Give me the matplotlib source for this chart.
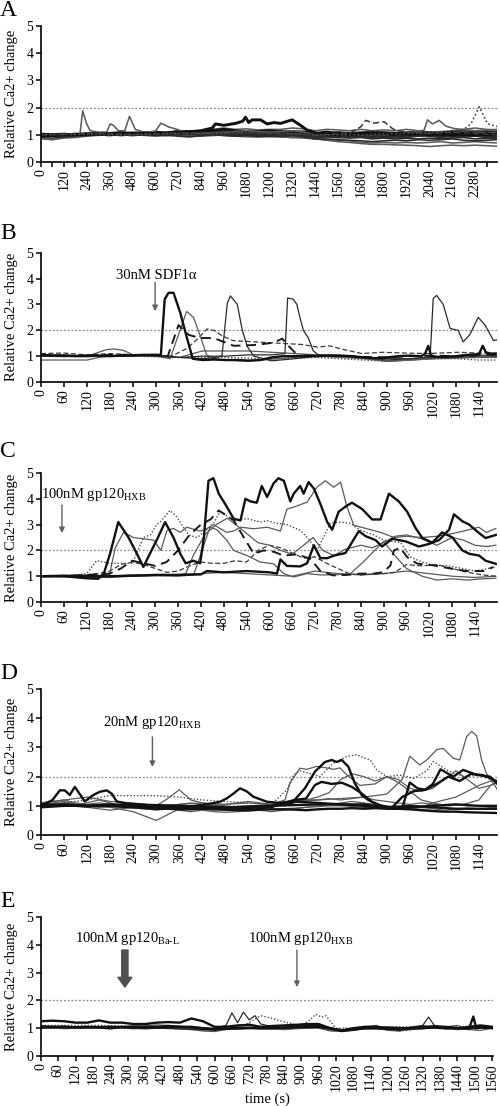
import matplotlib
matplotlib.use('Agg')
import matplotlib.pyplot as plt
import numpy as np

plt.rcParams['font.family'] = ['Liberation Serif', 'DejaVu Serif']
plt.rcParams['mathtext.fontset'] = 'custom'
plt.rcParams['mathtext.rm'] = 'Liberation Serif'
plt.rcParams['mathtext.it'] = 'Liberation Serif:italic'

# ── Panel A: control (no stimulus), 0-2400 s ─────────────────────────────────
tA = np.arange(0, 2401, 60)
a1 = [1.0,0.98,1.0,1.02,1.03,1.05,1.05,1.08,1.05,1.07,1.1,1.05,1.1,1.12,1.1,1.15,1.2,1.15,1.1,1.12,1.15,1.1,1.12,1.1,1.05,1.1,1.05,1.0,1.05,1.05,1.0,1.02,1.05,1.08,1.0,1.05,1.1,1.05,1.0,1.05,1.0]
a2 = [0.95,0.97,1.0,1.0,1.05,1.02,1.0,1.05,1.0,1.02,1.0,1.03,1.05,1.0,1.05,1.1,1.05,1.08,1.05,1.0,1.02,1.0,0.98,1.0,0.95,0.97,0.95,0.92,0.95,0.9,0.95,0.93,0.95,0.97,0.95,0.9,0.95,0.92,0.95,0.9,0.92]
a3 = [1.02,1.0,0.98,1.0,1.0,1.03,1.08,1.05,1.1,1.08,1.05,1.1,1.15,1.12,1.15,1.2,1.25,1.2,1.22,1.18,1.2,1.2,1.25,1.22,1.15,1.2,1.18,1.15,1.2,1.15,1.18,1.15,1.2,1.15,1.1,1.12,1.15,1.2,1.25,1.2,1.18]
a4 = [0.9,0.88,0.92,0.95,0.97,1.0,0.98,1.0,0.97,1.0,1.0,0.98,0.95,0.92,0.97,1.0,0.98,0.95,0.97,0.95,0.93,0.95,0.97,0.92,0.85,0.85,0.82,0.8,0.78,0.75,0.78,0.8,0.78,0.82,0.8,0.82,0.85,0.8,0.78,0.8,0.82]
a5 = [0.85,0.82,0.88,0.9,0.95,0.98,1.0,0.97,1.0,0.98,0.95,0.97,1.0,0.95,0.97,1.0,0.97,0.95,0.93,0.92,0.95,0.92,0.9,0.88,0.85,0.8,0.75,0.72,0.68,0.65,0.65,0.63,0.62,0.6,0.57,0.6,0.62,0.6,0.62,0.6,0.58]
a6 = [1.0,1.02,1.0,1.05,1.0,1.02,1.0,1.03,1.0,1.0,1.05,1.02,1.0,1.05,1.08,1.05,1.1,1.05,1.08,1.05,1.03,1.05,1.0,1.05,1.0,1.05,1.1,1.05,1.0,1.05,1.1,1.05,1.08,1.05,1.0,1.02,1.05,1.1,1.05,1.0,1.03]
a7 = [0.97,1.0,1.02,1.0,1.05,1.0,1.03,1.0,1.05,1.03,1.0,1.05,1.0,1.03,1.0,1.02,1.0,0.98,1.0,0.97,0.98,0.95,0.97,0.95,0.92,0.95,0.9,0.88,0.9,0.85,0.88,0.85,0.87,0.85,0.88,0.85,0.88,0.9,0.85,0.87,0.85]
a8 = [1.0,1.0,1.0,1.0,1.02,1.0,1.0,1.02,1.05,1.0,1.02,1.05,1.08,1.1,1.05,1.1,1.12,1.15,1.1,1.05,1.08,1.05,1.1,1.05,1.0,1.05,1.0,0.95,0.97,1.0,0.97,1.0,1.05,1.0,0.97,1.0,1.02,1.05,1.1,1.15,1.12]
a9 = [1.0,0.97,1.0,1.02,1.0,1.0,0.97,1.0,0.98,1.0,0.97,1.0,0.98,1.0,0.95,0.97,1.0,0.98,0.95,0.93,0.95,0.93,0.9,0.92,0.85,0.82,0.8,0.78,0.72,0.7,0.72,0.7,0.72,0.7,0.72,0.75,0.7,0.72,0.75,0.72,0.7]
a10 = [1.03,1.0,0.97,1.0,1.03,1.05,1.0,1.05,1.03,1.05,1.08,1.05,1.03,1.05,1.1,1.08,1.05,1.1,1.05,1.1,1.05,1.08,1.05,1.1,1.05,1.0,1.05,1.0,1.03,1.0,1.05,1.0,1.0,0.97,1.0,0.95,1.0,0.97,1.0,0.95,0.97]
a11 = [0.92,0.95,0.97,1.0,0.98,1.0,1.02,0.98,1.0,1.03,1.0,0.98,1.02,1.05,1.0,1.05,1.03,1.0,1.02,1.0,0.97,1.0,1.02,0.98,0.9,0.92,0.9,0.95,0.92,0.95,0.9,0.92,0.9,0.95,0.97,0.95,0.92,0.95,0.97,0.95,0.93]
a12 = [1.05,1.03,1.05,1.02,1.05,1.08,1.05,1.1,1.05,1.1,1.12,1.08,1.15,1.1,1.12,1.15,1.1,1.12,1.15,1.1,1.12,1.15,1.1,1.12,1.08,1.05,1.1,1.08,1.1,1.12,1.1,1.08,1.1,1.12,1.1,1.08,1.12,1.15,1.1,1.12,1.1]
a_sp_t = [0,120,180,205,219,240,258,300,345,363,380,407,440,465,495,540,600,630,670,714,760,840,960,1080,1200,1320,1440,1560,1680,1800,1920,2012,2030,2056,2091,2126,2170,2280,2400]
a_sp = [1.0,1.0,1.02,1.05,1.88,1.4,1.15,1.1,1.1,1.4,1.35,1.15,1.15,1.68,1.2,1.1,1.12,1.43,1.29,1.2,1.1,1.05,1.1,1.15,1.1,1.15,1.05,1.0,1.05,1.0,1.05,1.17,1.55,1.4,1.53,1.32,1.23,1.15,1.2]
a_hi_t = [0,120,240,360,480,600,720,840,900,916,960,1021,1060,1074,1091,1109,1153,1188,1223,1258,1319,1363,1398,1451,1560,1680,1800,1920,2040,2160,2280,2400]
a_hi = [0.98,1.0,1.02,1.03,1.05,1.05,1.08,1.15,1.25,1.4,1.35,1.42,1.5,1.65,1.45,1.55,1.55,1.4,1.45,1.42,1.55,1.35,1.17,1.05,1.0,1.05,1.05,1.02,1.05,1.0,1.02,1.0]
a_dash_t = [0,240,480,720,960,1200,1440,1620,1679,1705,1749,1802,1846,1872,1920,2040,2160,2280,2400]
a_dash = [1.0,1.05,1.02,1.05,1.1,1.05,1.0,1.05,1.29,1.53,1.43,1.48,1.23,1.15,1.1,1.05,1.1,1.05,1.0]
a_dot_t = [0,240,480,720,960,1200,1440,1680,1920,2160,2220,2258,2302,2346,2398]
a_dot = [1.0,1.02,1.0,1.05,1.05,1.1,1.0,1.0,1.05,1.1,1.2,1.4,2.03,1.4,1.3]

# ── Panel B: 30 nM SDF1a ─────────────────────────────────────────────────────
b1_t = [0,30,60,90,120,150,180,210,240,270,300,312,322,332,345,362,380,395,420,450,480,510,540,570,600,630,660,690,720,750,780,810,840,870,900,930,960,990,1000,1008,1016,1040,1080,1110,1140,1150,1158,1170,1200]
b1 = [1.05,1.03,1.02,1.0,1.0,1.02,1.0,1.02,1.03,1.05,1.05,1.05,3.2,3.45,3.45,2.7,1.7,0.9,0.85,0.87,0.85,0.85,0.83,0.85,0.95,1.0,1.0,1.02,1.0,1.03,1.02,1.0,0.95,0.92,0.95,1.0,1.02,1.0,1.1,1.4,1.0,0.97,1.0,1.05,1.08,1.4,1.15,1.1,1.1]
b2_t = [0,60,120,150,180,240,300,336,362,379,397,414,431,450,480,540,600,660,720,780,840,900,960,1020,1080,1140,1200]
b2 = [0.85,0.85,0.85,0.95,1.0,1.02,1.0,0.9,2.0,2.73,2.5,1.8,1.05,0.9,0.85,0.8,0.88,0.95,1.0,0.95,0.9,0.8,0.85,0.9,0.92,0.95,0.95]
b3_t = [0,60,120,180,240,300,360,420,455,471,485,493,511,524,537,554,600,660,720,780,840,900,960,1020,1080,1140,1200]
b3 = [1.0,1.0,1.05,1.02,1.0,1.03,0.95,0.9,0.95,1.0,3.05,3.33,3.0,2.0,1.37,1.0,0.82,0.9,1.0,1.0,0.95,0.85,0.9,0.95,0.95,1.0,1.0]
b4_t = [0,60,120,180,240,300,360,420,480,540,600,635,642,657,666,674,683,696,709,722,780,840,900,960,1000,1013,1021,1030,1047,1065,1086,1099,1117,1138,1156,1178,1190]
b4 = [1.0,1.05,1.0,1.02,1.05,1.0,0.95,1.0,1.0,1.05,1.05,1.1,3.25,3.2,3.0,2.5,2.0,1.7,1.2,1.05,1.0,0.95,0.9,0.9,0.95,1.0,3.23,3.35,3.0,2.07,2.0,1.55,1.85,2.5,2.2,1.6,1.65]
b5_t = [0,60,120,180,240,300,330,358,385,415,450,502,554,606,628,641,659,676,720,780,840,900,960,1020,1080,1140,1200]
b5 = [1.05,1.0,1.02,1.05,1.05,1.05,1.0,2.2,1.82,1.7,1.7,1.4,1.43,1.52,1.68,1.45,1.17,0.98,1.0,1.02,0.97,0.95,1.0,1.02,1.0,1.05,1.05]
b6_t = [0,60,120,180,240,300,340,380,410,432,450,470,500,560,620,680,720,750,790,835,887,947,1008,1086,1140,1190]
b6 = [1.1,1.12,1.05,1.1,1.05,1.05,1.0,1.3,1.7,2.05,2.0,1.8,1.6,1.55,1.5,1.45,1.35,1.4,1.25,1.1,1.15,1.12,1.1,1.15,1.12,1.1]
b7_t = [0,60,120,150,170,190,215,240,300,360,420,480,540,600,660,720,780,840,900,960,1020,1080,1140,1200]
b7 = [1.0,0.98,1.0,1.15,1.25,1.28,1.22,1.05,1.0,0.95,1.2,1.2,1.2,1.15,1.1,1.05,1.0,0.95,0.8,0.85,0.9,1.0,1.05,1.0]
b8_t = [0,120,240,360,480,600,720,840,900,960,1020,1080,1140,1200]
b8 = [1.0,1.0,1.0,0.95,0.95,0.9,0.95,0.85,0.8,0.85,0.9,0.9,0.85,0.85]

# ── Panel C: 100 nM gp120 HXB ────────────────────────────────────────────────
c1_t = [0,60,120,150,165,182,203,230,252,269,287,304,326,348,366,380,400,418,428,440,453,467,488,506,524,537,550,567,580,594,611,624,638,655,664,681,690,703,717,734,752,765,782,800,817,844,870,892,914,940,962,984,1002,1028,1054,1081,1107,1125,1151,1168,1195]
c1 = [1.0,1.0,0.92,0.9,1.1,1.9,3.1,2.5,1.87,1.36,1.9,2.4,3.1,2.5,1.87,1.5,1.6,1.5,2.5,4.7,4.8,4.2,3.7,3.23,3.16,4.0,3.9,3.85,4.5,4.07,4.6,4.8,4.7,3.9,4.2,4.5,4.2,4.65,4.4,3.8,3.1,2.8,3.5,3.7,3.85,3.6,3.2,3.2,4.2,3.9,3.5,2.87,2.48,2.3,2.7,2.5,2.0,1.87,1.8,1.6,1.48]
c2_t = [0,60,120,180,240,300,360,420,436,480,540,600,620,629,646,681,699,717,734,752,770,800,835,853,879,896,923,958,993,1019,1046,1072,1085,1107,1125,1151,1168,1195]
c2 = [1.0,1.02,1.0,1.0,1.02,1.05,1.05,1.07,1.2,1.15,1.2,1.15,1.1,1.65,1.4,1.38,1.5,2.2,1.7,1.7,1.8,1.9,2.75,2.55,2.4,2.15,2.45,2.35,2.15,2.25,2.4,2.8,3.4,3.13,3.0,2.67,2.48,2.6]
c3_t = [0,60,120,180,195,217,243,270,296,315,331,348,366,383,418,436,453,488,506,524,559,594,629,646,664,699,725,747,769,787,804,822,857,892,927,960,1000,1040,1080,1110,1150,1170,1195]
c3 = [1.0,1.02,1.0,1.05,2.1,2.7,2.5,2.45,2.4,2.0,2.78,2.85,2.7,2.9,2.75,2.85,3.0,2.7,2.75,2.9,2.84,2.9,2.75,3.6,3.68,3.87,4.45,4.7,4.45,4.65,3.68,2.97,2.84,2.7,2.5,2.55,2.5,2.55,2.65,2.75,2.9,2.7,2.85]
c4_t = [0,60,120,146,180,240,269,287,304,313,339,357,374,388,410,436,453,471,506,541,576,594,620,646,681,703,725,743,760,787,813,839,874,900,945,971,1001,1036,1071,1106,1141,1193]
c4 = [1.0,1.0,1.1,1.6,1.5,1.5,2.5,2.6,3.0,3.1,3.55,3.3,2.9,2.6,2.5,2.8,3.05,3.5,3.17,3.23,3.1,3.15,3.05,3.0,2.78,2.45,2.0,2.52,3.05,3.1,3.05,2.78,2.6,2.4,2.3,1.74,1.55,1.42,1.4,1.3,1.2,1.35]
c5_t = [0,60,120,180,210,240,270,300,330,360,390,420,445,467,506,533,559,585,611,637,673,708,734,769,804,839,874,900,918,927,944,962,988,1031,1075,1119,1163,1189]
c5 = [1.0,1.0,1.05,1.1,1.3,1.6,1.5,1.4,1.55,2.0,2.6,3.0,3.2,3.55,3.17,2.5,1.87,2.0,1.95,1.8,1.85,1.67,1.2,1.03,1.05,1.1,1.1,1.16,1.42,2.0,2.1,1.74,1.49,1.42,1.3,1.2,1.2,1.36]
c6_t = [0,60,120,180,240,300,360,401,444,462,488,506,541,576,611,638,664,699,734,769,813,850,900,930,960,1001,1040,1080,1120,1160,1195]
c6 = [1.0,0.98,0.95,0.95,1.0,1.02,1.0,1.05,2.9,2.8,2.4,2.0,1.8,1.55,1.48,1.1,0.97,1.1,1.05,1.05,1.1,1.6,2.35,1.8,1.3,1.0,0.85,0.9,0.85,0.9,0.92]
c7_t = [0,60,120,180,240,300,360,380,400,430,460,490,520,545,570,600,630,660,690,715,740,770,800,840,870,900,930,960,1000,1040,1080,1110,1140,1170,1195]
c7 = [1.0,1.0,1.05,1.0,1.05,1.05,1.05,1.1,1.8,2.6,3.0,3.25,2.9,2.6,2.3,2.2,2.0,1.85,2.2,2.5,2.0,1.8,2.05,2.2,2.1,2.3,2.55,2.6,2.45,2.2,2.5,2.4,2.2,2.15,2.2]
c8_t = [0,60,120,150,180,210,240,270,300,330,360,390,420,450,480,510,540,570,600,630,660,690,720,750,780,810,840,870,900,930,960,1000,1040,1080,1120,1160,1195]
c8 = [1.0,1.02,1.05,1.1,1.2,1.45,1.55,1.45,1.3,1.15,1.2,1.4,1.55,1.5,1.5,1.6,1.55,2.0,2.2,2.1,1.9,1.7,1.75,1.5,1.3,1.1,1.05,1.08,1.1,1.15,1.45,1.4,1.45,1.3,1.15,1.05,1.0]
c9_t = [0,120,240,360,420,480,540,600,660,720,780,840,900,960,1020,1080,1140,1195]
c9 = [0.98,1.0,1.0,1.05,1.1,1.15,1.1,1.05,1.0,1.2,1.1,1.05,1.1,1.2,1.1,1.0,0.95,1.0]

# ── Panel D: 20 nM gp120 HXB ─────────────────────────────────────────────────
tD = np.arange(0, 1201, 30)
d1_t = [0,30,49,62,75,88,101,114,136,153,171,184,197,223,250,300,350,400,431,466,483,501,518,535,553,588,620,660,720,780,840,900,960,1020,1080,1140,1200]
d1 = [1.0,1.2,1.53,1.53,1.37,1.65,1.4,1.15,1.37,1.48,1.53,1.42,1.15,1.08,1.05,1.0,0.95,1.0,1.05,1.14,1.25,1.42,1.6,1.5,1.31,1.14,1.1,1.15,1.1,1.05,1.0,0.95,1.0,0.95,0.9,0.9,0.9]
d2_t = [0,60,120,180,240,300,360,420,480,540,600,630,652,687,713,739,757,770,783,800,817,835,852,878,904,930,960,1020,1080,1140,1200]
d2 = [1.0,1.05,1.0,1.02,1.0,0.95,0.97,0.95,0.93,0.95,1.0,1.05,1.08,1.6,2.17,2.5,2.57,2.5,2.57,2.34,1.77,1.37,1.2,1.03,0.9,0.9,0.95,1.0,1.05,1.0,1.0]
d3_t = [0,60,120,180,240,300,360,420,480,540,600,630,660,690,713,730,757,783,809,835,861,887,913,940,970,1000,1030,1060,1090,1120,1150,1170,1190]
d3 = [0.95,1.0,1.0,1.05,1.0,0.95,0.9,0.9,0.88,0.9,0.95,1.1,1.2,1.25,1.71,1.82,1.75,1.79,1.65,1.42,1.14,1.0,0.93,1.3,1.5,1.55,1.75,2.0,1.85,2.1,2.05,1.95,1.8]
d4_t = [0,120,240,360,480,600,720,840,900,940,960,980,1000,1020,1040,1060,1073,1099,1134,1169,1190]
d4 = [1.05,1.0,1.05,1.0,0.95,1.0,1.05,1.05,0.95,0.9,1.8,1.6,1.55,1.75,2.25,2.1,2.0,2.23,2.06,2.0,1.72]
d5 = [1.0,1.0,1.02,1.0,0.98,1.0,1.0,0.97,0.95,0.92,0.9,0.9,0.88,0.88,0.9,0.9,0.87,0.85,0.85,0.87,0.88,0.88,0.87,0.85,0.88,0.9,0.9,0.92,0.9,0.92,0.9,0.9,0.88,0.85,0.82,0.8,0.8,0.78,0.77,0.76,0.75]
d6_t = [0,60,120,180,240,300,360,420,480,540,600,660,720,780,840,900,940,960,986,1004,1030,1047,1073,1090,1108,1121,1134,1147,1160,1186,1200]
d6 = [1.1,1.2,1.3,1.15,1.1,1.0,1.05,1.1,1.05,1.1,1.05,1.15,1.2,1.25,1.3,1.4,1.9,2.7,2.4,2.57,2.92,2.97,2.63,2.57,3.37,3.55,3.4,2.57,2.1,1.6,1.2]
d7_t = [0,60,120,180,240,300,360,420,480,540,600,640,657,674,700,726,761,796,822,839,857,874,900,935,970,1004,1021,1060,1100,1140,1170,1190]
d7 = [1.05,1.1,1.2,1.35,1.35,1.35,1.3,1.2,1.15,1.1,1.05,1.55,2.06,2.2,2.11,2.0,2.46,2.69,2.75,2.65,2.57,2.23,2.0,2.05,1.94,2.2,2.52,2.2,2.0,2.05,1.9,1.85]
d8_t = [0,60,120,180,240,300,330,360,420,480,540,600,635,648,674,692,717,743,761,778,796,830,870,900,930,960,990,1020,1060,1100,1140,1170,1200]
d8 = [1.0,1.1,1.0,0.95,0.8,0.5,0.7,0.9,1.0,0.95,1.0,1.05,1.2,1.77,2.29,2.25,2.35,2.3,2.25,2.3,2.06,1.7,1.75,2.0,1.8,1.5,1.2,1.1,1.0,1.05,1.2,1.7,1.85]
d9 = [1.05,1.1,1.15,1.05,1.1,1.2,1.1,1.0,0.95,1.05,1.0,1.25,1.55,1.2,1.1,1.05,1.0,0.95,0.9,0.95,1.0,1.05,1.1,1.2,1.3,1.45,1.9,2.1,2.0,1.85,2.0,1.9,1.6,1.5,1.6,1.9,2.2,1.9,1.6,1.7,1.9]
d10 = [0.95,1.0,1.05,1.0,0.95,0.9,0.85,0.9,0.95,0.9,0.85,0.9,0.85,0.8,0.85,0.8,0.78,0.8,0.82,0.85,0.8,0.85,0.9,0.95,1.0,1.05,1.1,1.15,1.1,1.05,1.0,0.95,0.9,0.88,0.9,0.85,0.9,0.92,0.9,0.88,0.9]
d11 = [1.1,1.15,1.2,1.1,1.05,1.1,1.05,1.0,1.05,1.0,0.95,1.0,1.05,1.1,1.05,1.0,1.05,1.1,1.15,1.1,1.05,1.1,1.15,1.2,1.2,1.25,1.2,1.25,1.3,1.2,1.15,1.1,1.05,1.1,1.05,1.0,1.05,1.0,1.0,0.95,0.95]
d12 = [1.0,1.05,1.0,1.02,0.98,0.95,0.97,0.95,0.92,0.9,0.88,0.9,0.92,0.9,0.88,0.85,0.88,0.9,0.92,0.9,0.88,0.9,0.92,0.95,0.97,1.0,1.0,0.98,0.95,0.92,0.9,0.88,0.9,0.95,1.1,1.2,1.3,1.5,1.7,1.85,1.9]

# ── Panel E: gp120 Ba-L then gp120 HXB ───────────────────────────────────────
tE = np.arange(0, 1601, 40)
e1 = [1.25,1.27,1.25,1.2,1.2,1.28,1.2,1.2,1.15,1.15,1.2,1.22,1.2,1.35,1.25,1.05,1.05,1.1,1.12,1.05,1.08,1.1,1.12,1.15,1.15,1.0,0.92,1.0,1.05,1.05,1.0,0.97,1.0,1.05,1.05,1.05,1.0,1.05,1.1,1.05,1.05]
e2 = [1.05,1.05,1.05,1.03,1.05,1.03,1.0,1.05,1.03,1.05,1.05,1.08,1.05,1.05,1.0,0.95,1.0,1.0,1.02,1.0,1.0,1.02,1.05,1.08,1.1,1.0,0.9,0.95,1.0,1.0,0.98,0.95,1.0,1.0,1.05,1.0,1.0,1.0,1.05,1.0,1.0]
e3 = [1.05,1.0,1.05,1.0,1.02,1.0,1.05,1.0,0.98,1.0,1.02,1.05,1.0,0.95,0.95,0.9,1.0,1.05,1.0,1.05,1.0,0.95,1.0,1.05,1.05,0.95,0.9,0.95,1.05,1.1,0.95,0.9,1.05,1.1,1.0,1.05,1.1,0.95,1.0,1.05,1.0]
e4 = [1.1,1.05,1.08,1.05,1.0,1.05,1.0,1.05,1.1,1.08,1.12,1.1,1.05,1.0,0.92,0.9,1.0,1.1,1.15,1.05,1.05,1.0,1.05,1.0,1.05,0.95,0.92,1.0,1.05,1.0,0.95,1.0,0.95,1.05,1.1,1.0,0.95,1.0,1.05,1.0,1.05]
e7 = [1.0,1.02,0.98,1.0,1.0,1.0,0.98,1.0,1.0,0.97,1.0,1.0,0.97,0.95,0.9,0.88,0.95,1.0,1.0,0.97,0.97,0.95,0.98,1.0,1.0,0.9,0.88,0.92,0.98,1.0,0.92,0.9,0.95,0.98,1.0,0.97,1.0,0.95,0.92,1.0,0.98]
e5_t = [0,200,400,560,600,640,660,680,700,720,740,760,800,840,880,920,1000,1040,1080,1200,1280,1320,1340,1360,1400,1480,1560,1600]
e5 = [1.0,1.05,1.0,0.95,1.0,1.1,1.55,1.2,1.58,1.3,1.45,1.15,1.05,1.0,1.05,1.1,0.95,0.9,1.0,1.05,1.0,1.1,1.4,1.1,1.05,1.0,1.05,1.05]
e6_t = [0,200,400,600,700,720,760,800,850,900,930,950,970,985,1020,1080,1200,1400,1600]
e6 = [1.1,1.1,1.05,1.0,1.05,1.2,1.45,1.35,1.2,1.1,1.3,1.5,1.4,1.45,1.0,1.0,1.05,1.05,1.05]
e8_t = [0,120,240,360,480,600,720,840,960,1000,1040,1120,1240,1360,1440,1480,1495,1505,1520,1600]
e8 = [1.05,1.03,1.05,1.02,1.05,0.97,1.0,1.02,1.05,1.0,0.92,1.0,1.0,1.02,1.0,0.98,1.42,1.0,1.02,1.0]

# line styles
STY = {
    'thick': dict(color='#111111', lw=1.7, ls='-'),
    'thin':  dict(color='#2a2a2a', lw=0.9, ls='-'),
    'gray':  dict(color='#5a5a5a', lw=0.9, ls='-'),
    'dash':  dict(color='#1a1a1a', lw=1.4, ls=(0, (5, 3))),
    'tdash': dict(color='#3a3a3a', lw=0.9, ls=(0, (4, 2))),
    'dot':   dict(color='#4a4a4a', lw=1.0, ls=(0, (1, 1.4))),
}


def setup(ax, xmax, label_every, tick_end=None):
    ax.set_xlim(0, xmax)
    ax.set_ylim(0, 5)
    ticks = np.arange(0, tick_end or xmax, 60)
    ax.set_xticks(ticks)
    ax.set_xticklabels([str(int(t)) if i % label_every == 0 else ''
                        for i, t in enumerate(ticks)], rotation=90, fontsize=10)
    ax.set_yticks(range(6))
    ax.tick_params(axis='y', labelsize=10, length=3.5, width=1.1, pad=2)
    ax.tick_params(axis='x', length=3.5, width=1.1, pad=1.5)
    for s in ('top', 'right'):
        ax.spines[s].set_visible(False)
    for s in ('left', 'bottom'):
        ax.spines[s].set_linewidth(1.2)
    ax.axhline(2, color='#8a8a8a', lw=0.9, ls=(0, (1.5, 1.5)), zorder=0)
    ax.set_ylabel('Relative Ca2+ change', fontsize=10.5)
    ax.yaxis.set_label_coords(-0.05, 0.5)


def draw(ax, traces, scale=1.0):
    for t, v, st in traces:
        kw = dict(STY[st])
        kw['lw'] = kw['lw'] * scale
        ax.plot(t, v, **kw)


def arrow(ax, x, y0, y1, thick=False):
    if thick:
        ax.annotate('', xy=(x, y1), xytext=(x, y0),
                    arrowprops=dict(width=4.5, headwidth=10, headlength=7,
                                    shrink=0, color='#505050'))
    else:
        ax.annotate('', xy=(x, y1), xytext=(x, y0),
                    arrowprops=dict(arrowstyle='-|>', color='#606060', lw=1.0,
                                    mutation_scale=8, shrinkA=0, shrinkB=0))


fig = plt.figure(figsize=(5.0, 11.06), dpi=100)
L, W = 0.082, 0.912
axA = fig.add_axes([L, 0.8535, W, 0.123])
axB = fig.add_axes([L, 0.6546, W, 0.1169])
axC = fig.add_axes([L, 0.4557, W, 0.1166])
axD = fig.add_axes([L, 0.2450, W, 0.1320])
axE = fig.add_axes([L, 0.0452, W - 0.008, 0.1257])

# A
setup(axA, 2395, 2)
draw(axA, [(tA, a5, 'gray'), (tA, a9, 'gray'), (tA, a4, 'thin'), (tA, a7, 'thin'),
           (tA, a2, 'thin'), (tA, a11, 'thin'), (tA, a3, 'gray'), (tA, a12, 'thin'),
           (tA, a6, 'thin'), (tA, a8, 'thin'), (tA, a10, 'thin'), (tA, a1, 'thick'),
           (a_sp_t, a_sp, 'gray'), (a_hi_t, a_hi, 'thick'),
           (a_dash_t, a_dash, 'tdash'), (a_dot_t, a_dot, 'dot')], scale=1.25)

# B
setup(axB, 1187, 1)
draw(axB, [(b8_t, b8, 'dot'), (b7_t, b7, 'gray'), (b6_t, b6, 'tdash'),
           (b2_t, b2, 'gray'), (b3_t, b3, 'thin'), (b4_t, b4, 'thin'),
           (b5_t, b5, 'dash'), (b1_t, b1, 'thick')])
axB.text(300, 4.13, '30nM SDF1α', ha='center', va='center', fontsize=10.5)
arrow(axB, 297, 3.86, 2.74)

# C
setup(axC, 1198, 1)
draw(axC, [(c9_t, c9, 'gray'), (c8_t, c8, 'tdash'), (c6_t, c6, 'gray'),
           (c7_t, c7, 'gray'), (c4_t, c4, 'dot'), (c3_t, c3, 'gray'),
           (c5_t, c5, 'dash'), (c2_t, c2, 'thick'), (c1_t, c1, 'thick')])
axC.text(139, 4.15, r'100nM gp120$_{\mathrm{HXB}}$', ha='center', va='center', fontsize=10.5)
arrow(axC, 55, 3.76, 2.67)

# D
setup(axD, 1187, 1)
draw(axD, [(tD, d10, 'gray'), (tD, d11, 'gray'), (tD, d12, 'gray'), (tD, d9, 'gray'),
           (d8_t, d8, 'gray'), (d7_t, d7, 'dot'), (d6_t, d6, 'gray'),
           (tD, d5, 'thick'), (d4_t, d4, 'thick'), (d3_t, d3, 'thick'),
           (d2_t, d2, 'thick'), (d1_t, d1, 'thick')])
axD.text(290, 3.87, r'20nM gp120$_{\mathrm{HXB}}$', ha='center', va='center', fontsize=10.5)
arrow(axD, 290, 3.36, 2.33)

# E
setup(axE, 1563, 1)
draw(axE, [(tE, e7, 'gray'), (tE, e3, 'gray'), (tE, e4, 'gray'),
           (e5_t, e5, 'thin'), (e6_t, e6, 'dot'), (tE, e2, 'thick'),
           (e8_t, e8, 'thick'), (tE, e1, 'thick')])
axE.text(298, 4.24, r'100nM gp120$_{\mathrm{Ba\text{-}L}}$', ha='center', va='center', fontsize=10.5)
axE.text(899, 4.24, r'100nM gp120$_{\mathrm{HXB}}$', ha='center', va='center', fontsize=10.5)
arrow(axE, 290, 3.81, 2.48, thick=True)
arrow(axE, 885, 3.81, 2.48)
axE.set_xlabel('time (s)', fontsize=10.5, labelpad=1)

for lab, y in zip('ABCDE', [1.0, 0.7985, 0.6015, 0.4005, 0.1945]):
    fig.text(0.0, y, lab, fontsize=17, va='top', ha='left')

fig.savefig('out.png', dpi=100)
